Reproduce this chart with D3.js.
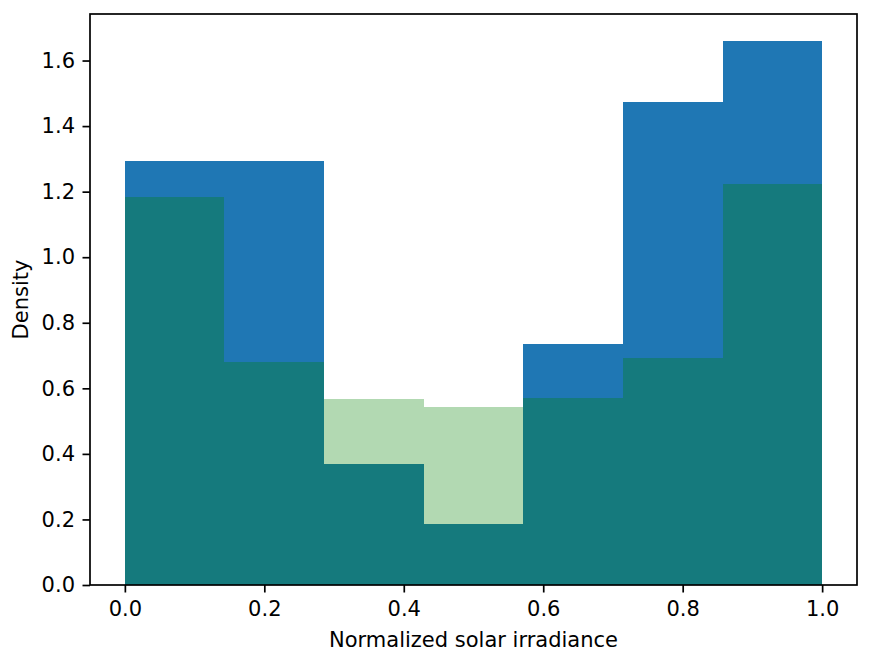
<!DOCTYPE html>
<html>
<head>
<meta charset="utf-8">
<script src="https://cdn.jsdelivr.net/npm/d3@7"></script>
<style>
  body { margin: 0; background: #fff; }
  text { font-family: "DejaVu Sans", sans-serif; }
</style>
</head>
<body>
<svg id="chart" width="875" height="661"></svg>
<script>
// DATA
var bin_edges = [0, 1/7, 2/7, 3/7, 4/7, 5/7, 6/7, 1];
var blue_density = [1.292, 1.292, 0.369, 0.185, 0.735, 1.475, 1.659];
var green_density = [1.183, 0.679, 0.566, 0.542, 0.572, 0.693, 1.224];
var x_ticks = [0.0, 0.2, 0.4, 0.6, 0.8, 1.0];
var y_ticks = [0.0, 0.2, 0.4, 0.6, 0.8, 1.0, 1.2, 1.4, 1.6];

// SVG dimensions
var left = 90, right = 857, top_y = 14, bottom = 585;
var font_px = 21;
var tick_len = 7.5;

var svg = d3.select("#chart");

var y_max = d3.max(blue_density.concat(green_density)) * 1.05;

const xScale = d3.scaleLinear().domain([-0.05, 1.05]).range([left, right]);
const yScale = d3.scaleLinear().domain([0, y_max]).range([bottom, top_y]);

// build bars from edges + heights
function makeBins(values) {
  return values.map((v, i) => ({ x0: bin_edges[i], x1: bin_edges[i + 1], h: v }));
}

// blue histogram first
svg.append("g").selectAll("rect")
  .data(makeBins(blue_density))
  .enter().append("rect")
  .attr("x", d => xScale(d.x0))
  .attr("width", d => xScale(d.x1) - xScale(d.x0))
  .attr("y", d => yScale(d.h))
  .attr("height", d => yScale(0) - yScale(d.h))
  .attr("shape-rendering", "crispEdges")
  .attr("fill", "#1f77b4");

// green histogram on top, alpha 0.3
svg.append("g").selectAll("rect")
  .data(makeBins(green_density))
  .enter().append("rect")
  .attr("x", d => xScale(d.x0))
  .attr("width", d => xScale(d.x1) - xScale(d.x0))
  .attr("y", d => yScale(d.h))
  .attr("height", d => yScale(0) - yScale(d.h))
  .attr("shape-rendering", "crispEdges")
  .attr("fill", "green")
  .attr("fill-opacity", 0.3);

// AXES
var xAxis = d3.axisBottom(xScale).tickValues(x_ticks).tickFormat(d3.format(".1f"))
  .tickSize(tick_len).tickPadding(9).tickSizeOuter(0);
var yAxis = d3.axisLeft(yScale).tickValues(y_ticks).tickFormat(d3.format(".1f"))
  .tickSize(tick_len).tickPadding(7.5).tickSizeOuter(0);

var gx = svg.append("g").attr("transform", "translate(0," + bottom + ")").call(xAxis);
var gy = svg.append("g").attr("transform", "translate(" + left + ",0)").call(yAxis);

[gx, gy].forEach(g => {
  g.select(".domain").remove();
  g.selectAll(".tick line").attr("stroke", "#000").attr("stroke-width", 1.7);
  g.selectAll(".tick text").attr("fill", "#000").style("font-size", font_px + "px")
    .style("font-family", "DejaVu Sans");
});

// frame (spines)
svg.append("rect")
  .attr("x", left).attr("y", top_y)
  .attr("width", right - left).attr("height", bottom - top_y)
  .attr("fill", "none").attr("stroke", "#000").attr("stroke-width", 1.7);

// axis labels
svg.append("text")
  .attr("x", (left + right) / 2).attr("y", 647)
  .attr("text-anchor", "middle")
  .style("font-size", font_px + "px")
  .text("Normalized solar irradiance");

svg.append("text")
  .attr("transform", "translate(28," + ((top_y + bottom) / 2) + ") rotate(-90)")
  .attr("text-anchor", "middle")
  .style("font-size", font_px + "px")
  .text("Density");
</script>
</body>
</html>
